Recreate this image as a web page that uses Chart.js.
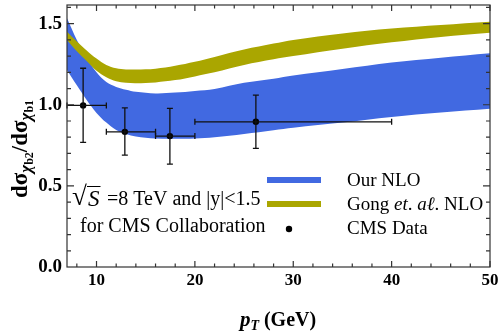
<!DOCTYPE html>
<html>
<head>
<meta charset="utf-8">
<script src="https://cdn.jsdelivr.net/npm/chart.js@4"></script>
<style>
  html, body { margin: 0; padding: 0; background: #fff; }
  #wrap { width: 500px; height: 331px; }
</style>
</head>
<body>
<div id="wrap"><canvas id="ratioChart" width="500" height="331"></canvas></div>
<script>
// ---- data ----
const bandX   = [7, 8, 9, 10, 11, 12, 13, 14, 16, 18, 20, 22, 25, 28, 30, 35, 40, 45, 50];
const ourHi   = [1.533, 1.40, 1.29, 1.20, 1.14, 1.11, 1.093, 1.08, 1.07, 1.075, 1.085, 1.097, 1.135, 1.16, 1.18, 1.22, 1.26, 1.29, 1.317];
const ourLo   = [1.214, 1.12, 1.03, 0.95, 0.89, 0.845, 0.82, 0.805, 0.792, 0.79, 0.792, 0.80, 0.82, 0.843, 0.858, 0.89, 0.925, 0.952, 0.975];
const gongHi  = [1.45, 1.39, 1.335, 1.285, 1.245, 1.225, 1.218, 1.217, 1.222, 1.24, 1.265, 1.295, 1.34, 1.377, 1.40, 1.44, 1.47, 1.492, 1.512];
const gongLo  = [1.40, 1.33, 1.27, 1.21, 1.17, 1.145, 1.136, 1.133, 1.138, 1.152, 1.175, 1.20, 1.245, 1.28, 1.30, 1.345, 1.385, 1.418, 1.444];

const cmsX    = [8.64, 12.88, 17.46, 26.2];
const cmsY    = [0.996, 0.833, 0.807, 0.895];
const cmsXLo  = [7, 11, 16, 20];
const cmsXHi  = [11, 16, 20, 40];
const cmsYLo  = [0.768, 0.69, 0.634, 0.731];
const cmsYHi  = [1.225, 0.981, 0.978, 1.06];

const xTicks  = [10, 20, 30, 40, 50];
const yTicks  = [0.0, 0.5, 1.0, 1.5];

const BLUE = 'rgb(65,105,225)';
const OLIVE = 'rgb(170,166,0)';
const SERIF = '"Liberation Serif", "DejaVu Serif", serif';

function pts(ys) { return bandX.map((x, i) => ({ x: x, y: ys[i] })); }

function band(ys, color, fill) {
  return {
    data: pts(ys), borderWidth: 0, pointRadius: 0,
    backgroundColor: color, borderColor: color,
    fill: fill, tension: 0.35
  };
}

// draw a run of text pieces with different fonts
function rich(ctx, parts, x, y, align) {
  let w = 0;
  parts.forEach(p => { ctx.font = p.font; p.w = ctx.measureText(p.t).width; w += p.w + (p.gap || 0); });
  let cx = align === 'center' ? x - w / 2 : x;
  parts.forEach(p => {
    ctx.font = p.font;
    ctx.fillText(p.t, cx, y + (p.dy || 0));
    cx += p.w + (p.gap || 0);
  });
  return cx;
}

const decor = {
  id: 'decor',
  afterDatasetsDraw(chart) {
    const ctx = chart.ctx, xs = chart.scales.x, ys = chart.scales.y;
    ctx.save();
    ctx.strokeStyle = '#111';
    ctx.lineWidth = 1.3;
    for (let i = 0; i < cmsX.length; i++) {
      const px = xs.getPixelForValue(cmsX[i]), py = ys.getPixelForValue(cmsY[i]);
      const x0 = xs.getPixelForValue(cmsXLo[i]), x1 = xs.getPixelForValue(cmsXHi[i]);
      const y0 = ys.getPixelForValue(cmsYLo[i]), y1 = ys.getPixelForValue(cmsYHi[i]);
      ctx.beginPath();
      ctx.moveTo(x0, py); ctx.lineTo(x1, py);
      ctx.moveTo(x0, py - 3); ctx.lineTo(x0, py + 3);
      ctx.moveTo(x1, py - 3); ctx.lineTo(x1, py + 3);
      ctx.moveTo(px, y0); ctx.lineTo(px, y1);
      ctx.moveTo(px - 3, y0); ctx.lineTo(px + 3, y0);
      ctx.moveTo(px - 3, y1); ctx.lineTo(px + 3, y1);
      ctx.stroke();
    }
    ctx.restore();
  },
  afterDraw(chart) {
    const ctx = chart.ctx, a = chart.chartArea, xs = chart.scales.x, ys = chart.scales.y;
    ctx.save();
    // frame + inward ticks
    ctx.strokeStyle = '#333';
    ctx.lineWidth = 1.2;
    ctx.strokeRect(a.left, a.top, a.right - a.left, a.bottom - a.top);
    ctx.beginPath();
    for (let v = 8; v <= 50; v += 2) {
      const len = v % 10 === 0 ? 6 : 3.5;
      const px = xs.getPixelForValue(v);
      ctx.moveTo(px, a.bottom); ctx.lineTo(px, a.bottom - len);
      ctx.moveTo(px, a.top); ctx.lineTo(px, a.top + len);
    }
    for (let k = 1; k <= 16; k++) {
      const v = k / 10;
      const len = k % 5 === 0 ? 7 : 4;
      const py = ys.getPixelForValue(v);
      ctx.moveTo(a.left, py); ctx.lineTo(a.left + len, py);
      ctx.moveTo(a.right, py); ctx.lineTo(a.right - len, py);
    }
    ctx.stroke();

    ctx.fillStyle = '#000';
    ctx.textBaseline = 'alphabetic';
    // x title
    rich(ctx, [
      { t: 'p', font: 'italic bold 21px ' + SERIF },
      { t: 'T', font: 'italic bold 14px ' + SERIF, dy: 4, gap: 5 },
      { t: '(GeV)', font: 'bold 20px ' + SERIF }
    ], 278, 326, 'center');

    // y title, rotated
    ctx.save();
    ctx.translate(27, 149);
    ctx.rotate(-Math.PI / 2);
    rich(ctx, [
      { t: 'd\u03c3', font: 'bold 23px ' + SERIF },
      { t: '\u03c7', font: 'italic bold 17px ' + SERIF, dy: 4 },
      { t: 'b2', font: 'bold 12px ' + SERIF, dy: 6 },
      { t: '/d\u03c3', font: 'bold 23px ' + SERIF },
      { t: '\u03c7', font: 'italic bold 17px ' + SERIF, dy: 4 },
      { t: 'b1', font: 'bold 12px ' + SERIF, dy: 6 }
    ], 0, 0, 'center');
    ctx.restore();

    // annotation
    ctx.textBaseline = 'middle';
    const f = '19px ' + SERIF, fi = 'italic 19px ' + SERIF;
    const fa = '20px ' + SERIF;
    ctx.font = '27px ' + SERIF;
    ctx.fillText('\u221a', 72, 198);
    ctx.font = 'italic 23px ' + SERIF;
    const sw = ctx.measureText('S').width;
    ctx.fillText('S', 88, 200);
    ctx.beginPath();
    ctx.lineWidth = 1;
    ctx.strokeStyle = '#000';
    ctx.moveTo(87, 186.5); ctx.lineTo(88 + sw + 1, 186.5);
    ctx.stroke();
    ctx.font = fa;
    ctx.fillText('=8 TeV and |y|<1.5', 107, 200);
    ctx.fillText('for CMS Collaboration', 80, 227);

    // legend
    ctx.lineWidth = 6;
    ctx.strokeStyle = BLUE;
    ctx.beginPath(); ctx.moveTo(267, 180); ctx.lineTo(321, 180); ctx.stroke();
    ctx.strokeStyle = OLIVE;
    ctx.beginPath(); ctx.moveTo(267, 204); ctx.lineTo(321, 204); ctx.stroke();
    ctx.fillStyle = '#000';
    ctx.beginPath(); ctx.arc(289, 229, 3.2, 0, Math.PI * 2); ctx.fill();
    ctx.font = f;
    ctx.fillText('Our NLO', 347, 181);
    rich(ctx, [
      { t: 'Gong ', font: f },
      { t: 'et', font: fi },
      { t: '. ', font: f },
      { t: 'a\u2113', font: fi },
      { t: '. NLO', font: f }
    ], 347, 205);
    ctx.fillText('CMS Data', 347, 229);
    ctx.restore();
  }
};

new Chart(document.getElementById('ratioChart'), {
  type: 'line',
  data: {
    datasets: [
      band(gongHi, OLIVE, '+1'),
      band(gongLo, OLIVE, false),
      band(ourHi, BLUE, '+1'),
      band(ourLo, BLUE, false),
      {
        type: 'scatter',
        data: cmsX.map((x, i) => ({ x: x, y: cmsY[i] })),
        pointRadius: 3.2, pointBackgroundColor: '#000', pointBorderWidth: 0,
        showLine: false, order: -1
      }
    ]
  },
  options: {
    responsive: false,
    animation: false,
    layout: { padding: { top: 5, right: 10, left: 0, bottom: 0 } },
    plugins: { legend: { display: false }, tooltip: { enabled: false } },
    scales: {
      x: {
        type: 'linear', min: 7, max: 50,
        grid: { display: false, drawTicks: false },
        border: { display: false },
        afterBuildTicks: s => { s.ticks = xTicks.map(v => ({ value: v })); },
        afterFit: s => { s.height = 64; s.paddingLeft = 0; s.paddingRight = 0; },
        ticks: { padding: 3, color: '#000', font: { family: SERIF, size: 17, weight: 'bold' } }
      },
      y: {
        min: 0, max: 1.615,
        grid: { display: false, drawTicks: false },
        border: { display: false },
        afterBuildTicks: s => { s.ticks = yTicks.map(v => ({ value: v })); },
        afterFit: s => { s.width = 67; s.paddingTop = 0; s.paddingBottom = 0; },
        ticks: { padding: 5, color: '#000', font: { family: SERIF, size: 19, weight: 'bold' },
                 callback: v => v.toFixed(1) }
      }
    }
  },
  plugins: [decor]
});
</script>
</body>
</html>
